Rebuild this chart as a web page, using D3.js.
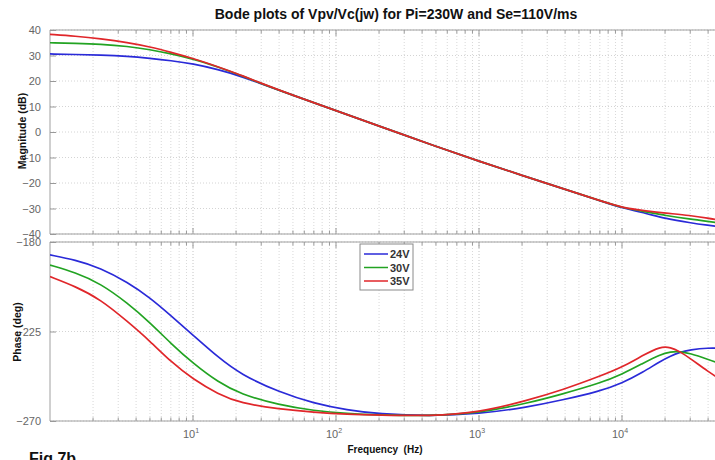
<!DOCTYPE html>
<html><head><meta charset="utf-8">
<script src="https://cdn.jsdelivr.net/npm/d3@7"></script>
<style>body{margin:0;background:#fff;} svg{display:block;font-family:"Liberation Sans",Arial,sans-serif;}</style>
</head><body>
<svg id="c" width="715" height="460"></svg>
<script>
const title = "Bode plots of Vpv/Vc(jw) for Pi=230W and Se=110V/ms";
const seriesNames = ["24V", "30V", "35V"];
const colors = ["#2a2ad8", "#22a322", "#e0262a"];
const magFreq = [1, 1.5, 2.25, 3.5, 5, 7, 10, 15, 21.5, 30, 50, 100, 200, 500, 1000, 2000, 4000, 7000, 10000, 15000, 20000, 30000, 40000, 50000];
const mag24 = [30.6, 30.4, 30.2, 29.7, 28.9, 28.0, 26.8, 24.5, 21.9, 18.9, 14.4, 8.4, 2.3, -5.6, -11.5, -17.0, -22.5, -26.9, -29.8, -32.0, -33.9, -35.6, -36.6, -37.3];
const mag30 = [35.0, 34.8, 34.5, 33.6, 32.3, 30.7, 28.7, 25.5, 22.3, 19.0, 14.4, 8.4, 2.3, -5.6, -11.5, -17.0, -22.5, -26.9, -29.7, -31.4, -32.7, -34.2, -35.1, -35.8];
const mag35 = [38.3, 37.6, 36.6, 35.1, 33.4, 31.3, 28.9, 25.6, 22.4, 19.1, 14.4, 8.4, 2.3, -5.6, -11.5, -17.0, -22.5, -26.9, -29.7, -31.0, -31.8, -32.7, -33.8, -34.8];
const phFreq = [1, 1.5, 2.25, 3.5, 5, 7, 10, 15, 21.5, 40, 70, 120, 200, 450, 1000, 2200, 3800, 7000, 10000, 14000, 18500, 22000, 25000, 30000, 40000, 50000];
const ph24 = [-186.5, -189.0, -193.0, -200.3, -208.0, -217.0, -226.8, -238.0, -246.5, -255.5, -261.1, -264.5, -266.5, -267.5, -266.5, -263.0, -259.5, -255.0, -251.0, -245.5, -240.0, -237.3, -235.6, -234.2, -233.2, -233.5];
const ph30 = [-191.6, -195.3, -200.8, -210.8, -220.5, -231.0, -241.0, -250.5, -256.5, -262.0, -264.8, -266.3, -267.0, -267.5, -266.0, -261.0, -256.5, -251.0, -246.5, -241.0, -236.5, -235.2, -235.0, -236.0, -239.0, -241.5];
const ph35 = [-197.4, -202.3, -208.8, -220.1, -229.8, -240.2, -249.0, -256.5, -261.0, -264.0, -265.6, -266.6, -267.0, -267.5, -265.8, -259.6, -254.5, -247.5, -243.0, -237.0, -232.5, -233.0, -234.8, -238.5, -245.2, -249.5];
const magTicks = [40, 30, 20, 10, 0, -10, -20, -30, -40];
const phTicks = [-180, -225, -270];
const xDecades = [1, 2, 3, 4];
const xLabel = "Frequency  (Hz)";
const magLabel = "Magnitude (dB)";
const phLabel = "Phase (deg)";
const figLabel = "Fig 7b";

const svg = d3.select("#c");
const x = d3.scaleLog().domain([1, 1e5]).range([50, 765]);
const yM = d3.scaleLinear().domain([-40, 40]).range([234, 30]);
const yP = d3.scaleLinear().domain([-270, -180]).range([421, 242]);

const minorVals = [];
for (let d = 0; d < 5; d++) for (let k = 1; k <= 9; k++) minorVals.push(k * Math.pow(10, d));

function panel(y, ticks, freqs, data, id) {
  const [y0, y1] = y.range();
  const g = svg.append("g");
  g.append("defs").append("clipPath").attr("id", id).append("rect")
    .attr("x", 50).attr("y", y1).attr("width", 715).attr("height", y0 - y1);
  g.selectAll(".vg").data(minorVals.filter(v => v > 1)).join("line")
    .attr("x1", d => x(d)).attr("x2", d => x(d)).attr("y1", y1).attr("y2", y0)
    .attr("stroke", d => Number.isInteger(Math.log10(d)) ? "#c4c4c4" : "#d8d8d8")
    .attr("stroke-width", 1).attr("stroke-dasharray", "1,2");
  g.selectAll(".hg").data(ticks).join("line")
    .attr("x1", 50).attr("x2", 765).attr("y1", d => y(d)).attr("y2", d => y(d))
    .attr("stroke", "#d4d4d4").attr("stroke-dasharray", "1,2");
  g.append("line").attr("x1", 50).attr("x2", 765).attr("y1", y1).attr("y2", y1).attr("stroke", "#a0a0a0");
  g.append("line").attr("x1", 50).attr("x2", 765).attr("y1", y0).attr("y2", y0).attr("stroke", "#a0a0a0");
  g.append("line").attr("x1", 50).attr("x2", 50).attr("y1", y1).attr("y2", y0).attr("stroke", "#a0a0a0");
  minorVals.filter(v => v > 1).forEach(v => {
    const major = Number.isInteger(Math.log10(v));
    const L = major ? 6 : 3.5;
    g.append("line").attr("x1", x(v)).attr("x2", x(v)).attr("y1", y0).attr("y2", y0 - L).attr("stroke", "#999");
    g.append("line").attr("x1", x(v)).attr("x2", x(v)).attr("y1", y1).attr("y2", y1 + L).attr("stroke", "#999");
  });
  const ax = g.append("g").attr("transform", "translate(50,0)")
    .call(d3.axisLeft(y).tickValues(ticks).tickSize(-6).tickPadding(9).tickFormat(d3.format("d")));
  ax.select(".domain").remove();
  ax.selectAll(".tick line").attr("stroke", "#999");
  ax.selectAll(".tick text").attr("fill", "#666").attr("font-size", 11);
  const line = d3.line().x(d => x(d[0])).y(d => y(d[1])).curve(d3.curveBasis);
  const lg = g.append("g").attr("clip-path", `url(#${id})`);
  data.forEach((s, i) => {
    lg.append("path").datum(freqs.map((f, j) => [f, s[j]]))
      .attr("d", line).attr("fill", "none").attr("stroke", colors[i]).attr("stroke-width", 1.7);
  });
}
panel(yM, magTicks, magFreq, [mag24, mag30, mag35], "cm");
panel(yP, phTicks, phFreq, [ph24, ph30, ph35], "cp");

xDecades.forEach(d => {
  const t = svg.append("text").attr("x", x(Math.pow(10, d)) - 2).attr("y", 438)
    .attr("text-anchor", "middle").attr("fill", "#666").attr("font-size", 11);
  t.append("tspan").text("10");
  t.append("tspan").text(d).attr("font-size", 7).attr("dy", -5);
});

svg.append("text").attr("x", 396).attr("y", 19).attr("text-anchor", "middle")
  .attr("font-weight", "bold").attr("font-size", 14).attr("fill", "#111").text(title);
svg.append("text").attr("x", 385).attr("y", 453).attr("text-anchor", "middle")
  .attr("font-weight", "bold").attr("font-size", 10).attr("fill", "#111").style("white-space", "pre").text(xLabel);
svg.append("text").attr("transform", "translate(26,131) rotate(-90)").attr("text-anchor", "middle")
  .attr("font-weight", "bold").attr("font-size", 10.5).attr("fill", "#111").text(magLabel);
svg.append("text").attr("transform", "translate(21,332) rotate(-90)").attr("text-anchor", "middle")
  .attr("font-weight", "bold").attr("font-size", 10.5).attr("fill", "#111").text(phLabel);
svg.append("text").attr("x", 29).attr("y", 464).attr("font-weight", "bold").attr("font-size", 16)
  .attr("fill", "#111").text(figLabel);

const leg = svg.append("g");
leg.append("rect").attr("x", 360).attr("y", 244).attr("width", 53).attr("height", 46)
  .attr("fill", "#fff").attr("stroke", "#8a8a8a");
seriesNames.forEach((n, i) => {
  const yy = 254 + i * 13.5;
  leg.append("line").attr("x1", 364).attr("x2", 388).attr("y1", yy).attr("y2", yy)
    .attr("stroke", colors[i]).attr("stroke-width", 1.5);
  leg.append("text").attr("x", 390).attr("y", yy + 4).attr("font-size", 11).attr("font-weight", "bold")
    .attr("fill", "#333").text(n);
});
</script>
</body></html>
